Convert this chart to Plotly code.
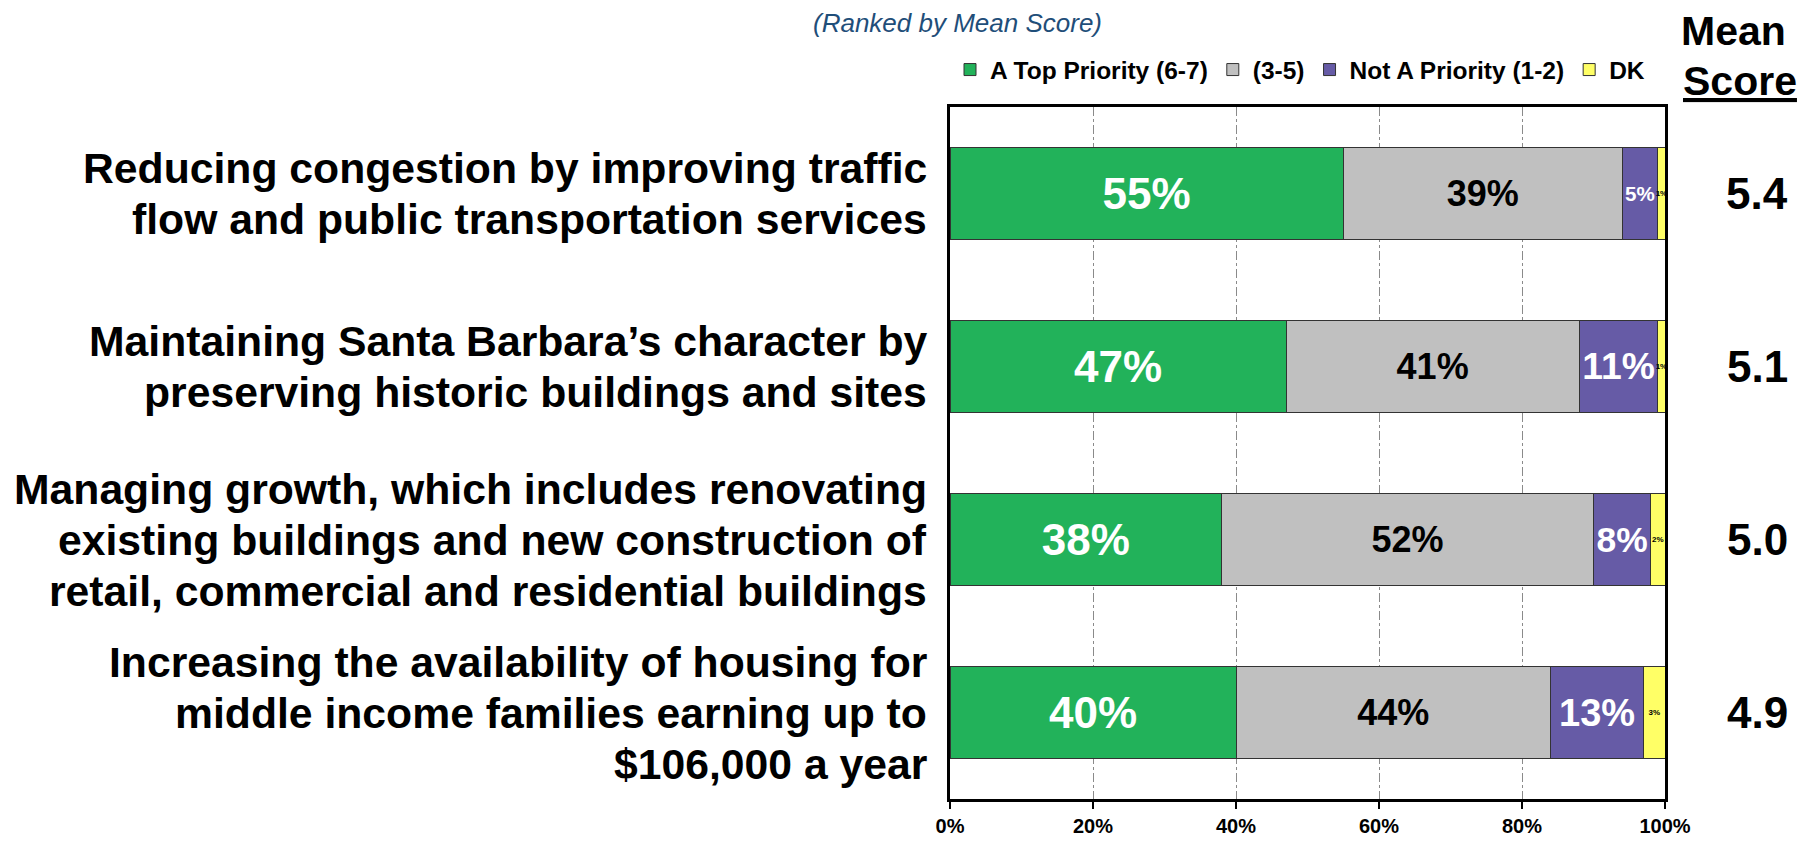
import plotly.graph_objects as go

categories = [
    "Reducing congestion by improving traffic<br>flow and public transportation services",
    "Maintaining Santa Barbara’s character by<br>preserving historic buildings and sites",
    "Managing growth, which includes renovating<br>existing buildings and new construction of<br>retail, commercial and residential buildings",
    "Increasing the availability of housing for<br>middle income families earning up to<br>$106,000 a year",
]
top_priority = [55, 47, 38, 40]
mid_priority = [39, 41, 52, 44]
not_priority = [5, 11, 8, 13]
dont_know = [1, 1, 2, 3]
mean_scores = ["5.4", "5.1", "5.0", "4.9"]
tick_values = [0, 20, 40, 60, 80, 100]
tick_labels = ["0%", "20%", "40%", "60%", "80%", "100%"]

FONT = "Arial, Liberation Sans, sans-serif"
series = [
    ("A Top Priority (6-7)", top_priority, "#22B25A", "white", 44, "inside"),
    ("(3-5)", mid_priority, "#C0C0C0", "black", 36, "inside"),
    ("Not A Priority (1-2)", not_priority, "#665BA6", "white", 38, "inside"),
    ("DK", dont_know, "#FFFF66", "black", 8, "none"),
]

fig = go.Figure()
for name, vals, color, tcolor, tsize, constrain in series:
    fig.add_trace(go.Bar(
        name=name, y=categories, x=vals, orientation="h",
        marker=dict(color=color, line=dict(color="#333333", width=1)),
        text=[f"{v}%" for v in vals], textposition="inside", textangle=0,
        insidetextanchor="middle", constraintext=constrain,
        textfont=dict(family=FONT, size=tsize, color=tcolor, weight="bold"),
        width=0.53,
    ))

annotations = []
line_h = 51
for cat in categories:
    lines = cat.split("<br>")
    n = len(lines)
    for i, ln in enumerate(lines):
        annotations.append(dict(
            xref="paper", yref="y", x=-0.029, y=cat, text=f"<b>{ln}</b>",
            xanchor="right", yanchor="middle", showarrow=False,
            yshift=-(i - (n - 1) / 2) * line_h,
            font=dict(family=FONT, size=42.7, color="black"),
        ))
for cat, ms in zip(categories, mean_scores):
    annotations.append(dict(
        xref="paper", yref="y", x=1.129, y=cat, text=f"<b>{ms}</b>",
        xanchor="center", yanchor="middle", showarrow=False,
        font=dict(family=FONT, size=44, color="black"),
    ))
annotations.append(dict(
    xref="paper", yref="paper", x=1.096, y=1.110, text="<b>Mean</b>",
    xanchor="center", yanchor="middle", showarrow=False,
    font=dict(family=FONT, size=41, color="black"),
))
annotations.append(dict(
    xref="paper", yref="paper", x=1.105, y=1.037, text="<b><u>Score</u></b>",
    xanchor="center", yanchor="middle", showarrow=False,
    font=dict(family=FONT, size=41, color="black"),
))
annotations.append(dict(
    xref="paper", yref="paper", x=0.011, y=1.122, text="<i>(Ranked by Mean Score)</i>",
    xanchor="center", yanchor="middle", showarrow=False,
    font=dict(family=FONT, size=26, color="#1F4E79"),
))

fig.update_layout(
    barmode="stack",
    width=1816, height=849,
    margin=dict(l=950, r=151, t=107, b=35),
    plot_bgcolor="white", paper_bgcolor="white",
    showlegend=True,
    legend=dict(orientation="h", x=0.0, y=1.054, xanchor="left", yanchor="middle",
                font=dict(family=FONT, size=24.5, color="black", weight="bold"),
                itemwidth=30, traceorder="normal", bgcolor="rgba(0,0,0,0)"),
    annotations=annotations,
    bargap=0.47,
)
fig.update_xaxes(
    range=[0, 100], tickvals=tick_values, ticktext=tick_labels,
    showgrid=True, gridcolor="#8A8A8A", griddash="dashdot", gridwidth=1,
    showline=True, linecolor="black", linewidth=2.5, mirror=True,
    ticks="outside", ticklen=7, tickwidth=1.5, tickcolor="black",
    tickfont=dict(family=FONT, size=20, color="black", weight="bold"),
    zeroline=False, fixedrange=True,
)
fig.update_yaxes(
    autorange="reversed", showticklabels=False, showgrid=False,
    showline=True, linecolor="black", linewidth=2.5, mirror=True, ticks="",
    fixedrange=True,
)

fig.write_html(
    "out.html",
    config={"displayModeBar": False},
    post_script="document.body.style.margin='0';document.body.style.overflow='hidden';",
)
